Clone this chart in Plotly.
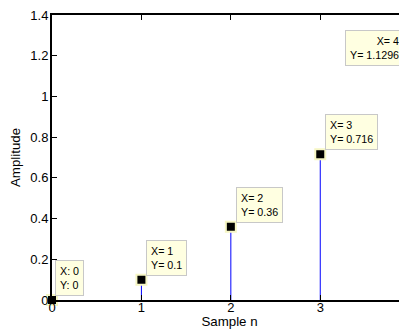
import plotly.graph_objects as go

# ---- data ----
n = [0, 1, 2, 3, 4]
amp = [0, 0.1, 0.36, 0.716, 1.1296]
tip_x = ["X: 0", "X= 1", "X= 2", "X= 3", "X= 4"]
tip_y = ["Y: 0", "Y= 0.1", "Y= 0.36", "Y= 0.716", "Y= 1.1296"]
xtick_vals = [0, 1, 2, 3]
xtick_text = ["0", "1", "2", "3"]
ytick_vals = [0, 0.2, 0.4, 0.6, 0.8, 1, 1.2, 1.4]
ytick_text = ["0", "0.2", "0.4", "0.6", "0.8", "1", "1.2", "1.4"]
x_label = "Sample n"
y_label = "Amplitude"

X_MAX = 3.97
Y_MAX = 1.4
FONT = "Liberation Sans, Arial, Helvetica, sans-serif"

# stems
sx, sy = [], []
for xi, yi in zip(n, amp):
    sx += [xi, xi, None]
    sy += [0, yi, None]

fig = go.Figure()
fig.add_trace(go.Scatter(x=sx, y=sy, mode="lines",
                         line=dict(color="#0000ff", width=1),
                         hoverinfo="skip", showlegend=False))
fig.add_trace(go.Scatter(x=n, y=amp, mode="markers",
                         marker=dict(symbol="square", size=10, color="black",
                                     line=dict(color="#f6f6c4", width=2)),
                         cliponaxis=False, showlegend=False))

for i, (xi, yi) in enumerate(zip(n, amp)):
    last = xi > X_MAX
    fig.add_annotation(
        x=(xi / X_MAX) if last else xi,
        xref="paper" if last else "x",
        y=yi, yref="y",
        text=tip_x[i] + "<br>" + tip_y[i],
        showarrow=False,
        xanchor="right" if last else "left",
        yanchor="bottom",
        xshift=-6 if last else (3 if i == 0 else 5),
        yshift=4,
        align="right" if last else "left",
        bgcolor="#ffffe1",
        bordercolor="#c8c8c8",
        borderwidth=1,
        borderpad=4,
        font=dict(family=FONT, size=10.7, color="black"),
    )

# the page body has an 8px margin; the figure is sized to fill the rest
fig.update_layout(
    width=399, height=321,
    margin=dict(l=44, r=0, t=7, b=29, autoexpand=False),
    paper_bgcolor="white", plot_bgcolor="white",
    font=dict(family=FONT, size=13, color="black"),
    xaxis=dict(range=[0, X_MAX], tickvals=xtick_vals, ticktext=xtick_text,
               ticks="inside", ticklen=5, tickcolor="black",
               ticklabelstandoff=-6, tickfont=dict(size=13),
               ticklabeloverflow="allow",
               showline=True, linecolor="black", linewidth=2, mirror="ticks",
               showgrid=False, zeroline=False, automargin=False,
               title=dict(text=x_label, standoff=2, font=dict(size=13.3))),
    yaxis=dict(range=[0, Y_MAX], tickvals=ytick_vals, ticktext=ytick_text,
               ticks="inside", ticklen=5, tickcolor="black",
               ticklabelstandoff=-1, tickfont=dict(size=13),
               ticklabeloverflow="allow",
               showline=True, linecolor="black", linewidth=2, mirror=False,
               showgrid=False, zeroline=False, automargin=False,
               title=dict(text=y_label, standoff=11, font=dict(size=13.3))),
)

fig.write_html("out.html")
